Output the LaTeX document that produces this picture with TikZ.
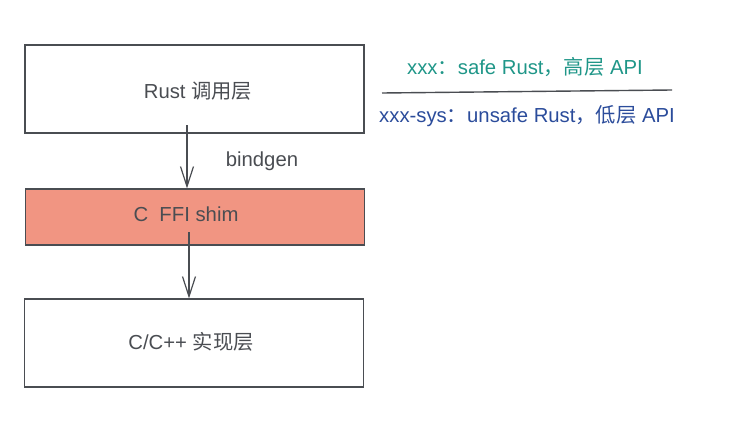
\documentclass[tikz,border=0pt]{standalone}
\usepackage{fontspec}
\setmainfont{Liberation Sans}
\newfontfamily\cjk{Noto Sans CJK SC}
\usetikzlibrary{arrows.meta}

\definecolor{linegray}{HTML}{4A4D52}
\definecolor{shimred}{HTML}{F19582}
\definecolor{safeteal}{HTML}{1F9688}
\definecolor{sysblue}{HTML}{2B4C9B}

\tikzset{
    layer/.style={draw=linegray, line width=1.1pt, minimum width=339pt, minimum height=88pt, inner sep=0pt},
    shimbox/.style={layer, fill=shimred, minimum height=56pt},
    txt/.style={font=\fontsize{20.3}{24}\selectfont, text=linegray},
    flow/.style={draw=linegray, line width=1.2pt, -{Straight Barb[length=20pt, width=13pt, line width=1.2pt]}}
}

\begin{document}
\begin{tikzpicture}[x=1pt, y=-1pt]
    \useasboundingbox (0, 0) rectangle (729, 423);

    \node[layer] (rust) at (194.5, 89) {};
    \node[shimbox] (shim) at (195, 217) {};
    \node[layer] (impl) at (194, 343) {};

    \node[txt] (rusttxt) at (198, 91) {Rust {\cjk 调用层}};
    \node[txt] (shimtxt) at (186, 214) {C\ \ FFI shim};
    \node[txt] (impltxt) at (191, 342) {C/C++ {\cjk 实现层}};
    \node[txt] (bindgen) at (262, 161) {bindgen};

    \coordinate (a1) at (187, 125);
    \coordinate (a2) at (189, 232);
    \draw[flow] (a1) -- (a1 |- shim.north);
    \draw[flow] (a2) -- (a2 |- impl.north);

    \node[txt, text=safeteal] (safe) at (525, 67) {xxx{\cjk ：}safe Rust{\cjk ，高层} API};
    \node[txt, text=sysblue] (sys) at (527, 116) {xxx-sys{\cjk ：}unsafe Rust{\cjk ，低层} API};
    \coordinate (sl) at (382, 93);
    \coordinate (sr) at (672, 90);
    \draw[linegray, line width=1.4pt] (sl) -- (sr);
\end{tikzpicture}
\end{document}
